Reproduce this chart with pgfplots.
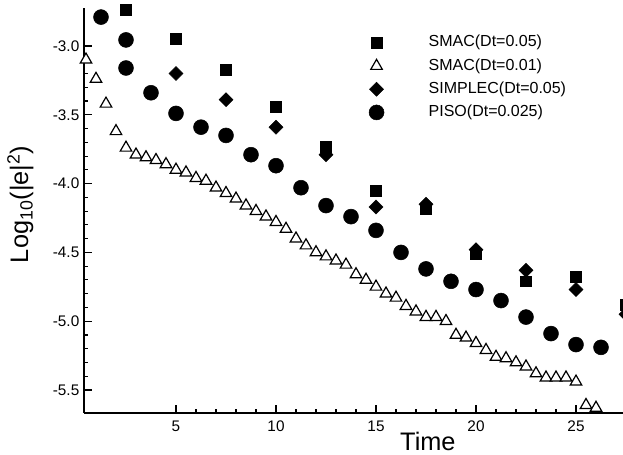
\documentclass[border=0pt]{standalone}
\usepackage{fontspec}
\setmainfont{Liberation Sans}
\usepackage{pgfplots}
\pgfplotsset{compat=1.18}
\begin{document}
\begin{tikzpicture}
\begin{axis}[
  scale only axis, width=404.25pt, height=303.75pt,
  xmin=0.4, xmax=27.35, ymin=-5.667, ymax=-2.724,
  clip=false,
  axis x line*=bottom, axis y line*=left,
  axis line style={line width=1.6pt},
  xtick={5,10,15,20,25}, ytick={-5.5,-5,-4.5,-4,-3.5,-3},
  minor x tick num=4, minor y tick num=4,
  tick align=inside,
  major tick length=6pt, minor tick length=3pt,
  tick style={line width=0.8pt, black},
  /pgf/number format/assume math mode=true,
  tick label style={font=\fontsize{11.5}{13}\selectfont},
  yticklabel style={/pgf/number format/.cd, fixed, fixed zerofill, precision=1},
  xticklabel style={yshift=-2.5pt},
  xlabel={Time},
  ylabel={Log\textsubscript{10}(|e|\textsuperscript{2})},
  xlabel style={at={(axis description cs:0.638,-0.071)}, anchor=center, font=\fontsize{19}{22}\selectfont},
  ylabel style={at={(axis description cs:-0.118,0.515)}, anchor=center, font=\fontsize{19}{22}\selectfont},
  legend style={draw=none, fill=none, at={(axis description cs:0.521,0.941)}, anchor=north west,
    font=\fontsize{12}{14}\selectfont, nodes={inner sep=0pt, text height=9pt, text depth=3pt},
    row sep=5.4pt, column sep=33.5pt},
  legend cell align=left,
]
% SMAC(Dt=0.05)
\addplot[only marks, mark=square*, mark size=4.1pt, black] coordinates {
(2.5,-2.74) (5,-2.95) (7.5,-3.17) (10,-3.44) (12.5,-3.73) (15,-4.05) (17.5,-4.18)
(20,-4.51) (22.5,-4.71) (25,-4.68) (27.5,-4.88)};
\addlegendentry{SMAC(Dt=0.05)}
% SMAC(Dt=0.01)
\addplot[only marks, mark=triangle*, mark size=5pt, black, mark options={fill=white, line width=0.9pt}] coordinates {
(0.5,-3.10) (1.0,-3.24) (1.5,-3.42) (2.0,-3.62) (2.5,-3.74) (3.0,-3.79) (3.5,-3.81)
(4.0,-3.83) (4.5,-3.86) (5.0,-3.90) (5.5,-3.92) (6.0,-3.96) (6.5,-3.98) (7.0,-4.03)
(7.5,-4.07) (8.0,-4.11) (8.5,-4.16) (9.0,-4.20) (9.5,-4.24) (10.0,-4.28) (10.5,-4.33)
(11.0,-4.40) (11.5,-4.45) (12.0,-4.50) (12.5,-4.53) (13.0,-4.56) (13.5,-4.59) (14.0,-4.66)
(14.5,-4.70) (15.0,-4.75) (15.5,-4.80) (16.0,-4.83) (16.5,-4.89) (17.0,-4.93) (17.5,-4.97)
(18.0,-4.97) (18.5,-5.00) (19.0,-5.10) (19.5,-5.12) (20.0,-5.16) (20.5,-5.21) (21.0,-5.26)
(21.5,-5.27) (22.0,-5.30) (22.5,-5.33) (23.0,-5.38) (23.5,-5.41) (24.0,-5.41) (24.5,-5.41)
(25.0,-5.44) (25.5,-5.61) (26.0,-5.63)};
\addlegendentry{SMAC(Dt=0.01)}
% SIMPLEC(Dt=0.05)
\addplot[only marks, mark=square*, mark size=3.7pt, black, mark options={rotate=45}] coordinates {
(5,-3.20) (7.5,-3.39) (10,-3.59) (12.5,-3.79) (15,-4.17) (17.5,-4.15) (20,-4.48)
(22.5,-4.63) (25,-4.77) (27.5,-4.95)};
\addlegendentry{SIMPLEC(Dt=0.05)}
% PISO(Dt=0.025)
\addplot[only marks, mark=*, mark size=5.6pt, black] coordinates {
(1.25,-2.79) (2.5,-2.956) (2.5,-3.16) (3.75,-3.34) (5,-3.49) (6.25,-3.59) (7.5,-3.65)
(8.75,-3.79) (10,-3.87) (11.25,-4.03) (12.5,-4.16) (13.75,-4.24) (15,-4.34) (16.25,-4.50)
(17.5,-4.62) (18.75,-4.71) (20,-4.77) (21.25,-4.85) (22.5,-4.97) (23.75,-5.09) (25,-5.17)
(26.25,-5.19)};
\addlegendentry{PISO(Dt=0.025)}
\end{axis}
\pgfresetboundingbox
\path[use as bounding box] ([xshift=-63pt,yshift=-31.5pt]current axis.south west) rectangle ([yshift=6pt]current axis.north east);
\end{tikzpicture}
\end{document}
